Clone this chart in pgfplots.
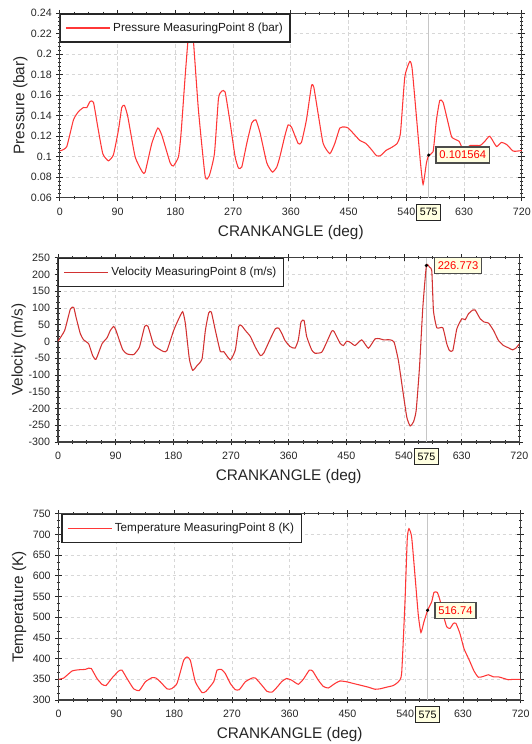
\documentclass[border=0pt]{standalone}
\usepackage{pgfplots}
\pgfplotsset{compat=1.18}
\usepackage{fontspec}
\setmainfont{Liberation Sans}

\definecolor{curvered}{RGB}{255,55,55}
\definecolor{curvedark}{RGB}{210,50,50}
\definecolor{tipfill}{RGB}{255,255,225}
\definecolor{gridgray}{RGB}{215,215,215}

\pgfplotsset{
  panel/.style={
    scale only axis,
    anchor=north west,
    width=346.5pt,
    xmin=0, xmax=720,
    xtick={0,90,...,720},
    minor x tick num=3,
    minor y tick num=2,
    grid=major,
    major grid style={gridgray, dash pattern=on 2.5pt off 2pt, line width=0.5pt},
    axis line style={black!75, line width=0.8pt},
    tick style={black!85, line width=0.6pt},
    tick align=center,
    major tick length=5pt,
    minor tick length=2.5pt,
    /pgf/number format/assume math mode=true,
    ticklabel style={font=\fontsize{8}{9}\selectfont, text=black!85},
    xticklabel style={yshift=-1.5pt},
    label style={font=\fontsize{11.5}{13}\selectfont, text=black!85},
    xlabel={CRANKANGLE (deg)},
    xlabel style={at={(axis description cs:0.5,0)}, anchor=center, yshift=-26pt},
    ylabel style={at={(axis description cs:-0.0855,0.5)}, anchor=center},
    legend style={at={(0,1)}, anchor=north west, draw=black!85, line width=1.1pt,
      fill=white, inner xsep=3.5pt, inner ysep=4.5pt,
      font=\fontsize{8.8}{10}\selectfont, text=black!90},
    legend cell align=left,
    legend image code/.code={\draw[#1] (0pt,0pt) -- (33pt,0pt);},
    clip mode=individual,
  },
  curve/.style={#1, line width=0.8pt, smooth, tension=0.3, forget plot},
}
\tikzset{
  cursorbox/.style={draw=black!85, fill=tipfill, line width=0.7pt,
    font=\fontsize{8}{9}\selectfont, inner xsep=2pt, inner ysep=2pt,
    minimum width=18pt, minimum height=12pt, anchor=north},
  valuebox/.style={draw=black!70, fill=tipfill, line width=1pt, text=red,
    font=\fontsize{8.4}{9}\selectfont, inner xsep=2.5pt, inner ysep=2.5pt,
    anchor=west, minimum height=12pt},
}

\begin{document}
\begin{tikzpicture}
\path[use as bounding box] (0,0) rectangle (399pt,-558pt);

% Pressure
\begin{axis}[panel,
  at={(44.85pt,-9.9pt)}, height=138.4pt,
  ymin=0.06, ymax=0.24, ytick={0.06,0.08,...,0.241},
  minor y tick num=4,
  yticklabel style={/pgf/number format/fixed, /pgf/number format/precision=2},
  ylabel={Pressure (bar)}]
\addlegendimage{curvered, line width=1pt}
\addlegendentry{Pressure MeasuringPoint 8 (bar)}
\addplot[gray!45, line width=0.6pt, forget plot] coordinates {(575,0.06) (575,0.24)};
\addplot[curve=curvered] coordinates {
(0,0.106) (2,0.106) (10.9,0.110) (21.3,0.136) (29.1,0.144) (36.9,0.148) (42.1,0.148)
(47.3,0.154) (52.5,0.153) (59.2,0.129) (67,0.103) (75.8,0.096) (83.6,0.102) (91.4,0.126)
(96.6,0.148) (100.8,0.150) (106,0.139) (117.4,0.100) (128.8,0.085) (133,0.085) (143.4,0.113)
(152.7,0.128) (159,0.121) (172,0.094) (177,0.091) (185,0.100) (189,0.123) (195.3,0.178)
(200,0.215) (204,0.232) (208,0.215) (216,0.146) (226.5,0.081) (232.7,0.081) (241,0.103)
(247.3,0.157) (252.5,0.164) (257.7,0.163) (265.5,0.133) (273.2,0.100) (278.4,0.089)
(283.6,0.090) (291.4,0.113) (299.2,0.133) (305.5,0.136) (312.2,0.123) (322.6,0.094)
(331.4,0.085) (338.2,0.090) (343,0.100) (350.6,0.120) (355.8,0.131) (361,0.129)
(371.4,0.113) (376.6,0.114) (384.4,0.136) (392.2,0.169) (395.8,0.168) (402.6,0.142)
(410.4,0.113) (420.8,0.103) (428.6,0.113) (436.4,0.128) (444.2,0.129) (449.4,0.128)
(457.1,0.123) (467.5,0.116) (476.9,0.113) (485.7,0.107) (493.5,0.101) (499.7,0.101)
(508,0.106) (516.9,0.109) (525.7,0.113) (530.9,0.123) (537.7,0.178) (545.5,0.193)
(549.1,0.186) (555.8,0.139) (562.1,0.094) (566.2,0.073) (571.4,0.094) (575,0.1016)
(581.8,0.105) (587,0.136) (592.2,0.155) (597.4,0.153) (605.2,0.133) (611,0.119)
(622.3,0.115) (628.6,0.107) (640,0.111) (655,0.111) (662.3,0.115) (670.1,0.120)
(680.5,0.110) (688.3,0.114) (696.1,0.112) (706.5,0.1055) (712.7,0.1055) (720,0.106)
};
\addplot[only marks, mark=*, mark size=1pt, black, forget plot] coordinates {(575,0.101564)};
\node[valuebox, xshift=5pt] at (axis cs:575,0.101564) {0.101564};
\node[cursorbox, yshift=-4.5pt] at (axis cs:575,0.06) {575};
\end{axis}

% Velocity
\begin{axis}[panel,
  at={(43.5pt,-193.3pt)}, width=346pt, height=138.2pt,
  ymin=-300, ymax=250, ytick={-300,-250,...,250},
  ylabel={Velocity (m/s)}]
\addlegendimage{curvedark, line width=1pt}
\addlegendentry{Velocity MeasuringPoint 8 (m/s)}
\addplot[gray!45, line width=0.6pt, forget plot] coordinates {(575,-300) (575,250)};
\addplot[curve=curvedark] coordinates {
(0,1) (10.4,33) (19.3,97) (24.5,102) (28.1,73) (34.9,23) (40,5) (47.9,-7) (54.1,-42)
(59.3,-53) (68.7,-7) (76.5,11) (81.7,33) (86.9,45) (90.5,33) (100.9,-24) (107.7,-37)
(118.1,-39) (127,-17) (135.3,45) (140.5,45) (149.3,-10) (157.1,-22) (164.9,-30)
(170.1,-27) (180.5,33) (187.3,63) (194.6,89) (198.8,53) (205,-52) (210.2,-86) (217,-72)
(224.8,-52) (230,33) (235.2,85) (239.3,88) (245.6,33) (253.4,-30) (258.6,-30) (269,-55)
(276.8,-25) (282,45) (286.2,48) (292.4,33) (300.2,15) (308,-17) (315.8,-42) (321,-35)
(331.4,8) (339.2,38) (344.4,40) (349.6,23) (354.3,3) (362.1,-15) (369.9,-20) (375.1,5)
(379.3,58) (384,63) (388.1,15) (395.9,-25) (401.1,-35) (411.6,-32) (419.4,-2) (427.2,31)
(430.8,30) (440.2,-5) (445.4,-12) (450.6,1) (455.8,-2) (463.6,-12) (474.1,5) (484.5,-20)
(494.9,8) (502.7,8) (507.9,5) (518.3,5) (524.6,-2) (531.3,-57) (538.1,-146) (544.4,-226)
(549.6,-252) (554.8,-240) (559,-206) (564.2,-77) (569.4,102) (575,226.773) (579.8,222)
(583.4,210) (586,92) (591.2,41) (600.6,41) (606.8,-7) (611,-27) (616.2,-27) (622.5,38)
(630.3,68) (635.5,65) (640.7,83) (647.4,94) (651.1,94) (658.9,68) (665.2,58) (671.9,55)
(679.7,33) (687.5,3) (695.3,-12) (703.2,-19) (709.4,-25) (715.1,-19) (720,-7)
};
\addplot[only marks, mark=*, mark size=1pt, black, forget plot] coordinates {(575,226.773)};
\node[valuebox, xshift=5.5pt] at (axis cs:575,226.773) {226.773};
\node[cursorbox, yshift=-4.5pt] at (axis cs:575,-300) {575};
\end{axis}

% Temperature
\begin{axis}[panel,
  at={(44pt,-385.3pt)}, height=139.7pt,
  ymin=300, ymax=750, ytick={300,350,...,750},
  ylabel={Temperature (K)},
  legend style={at={(axis description cs:0.006,1)}}]
\addlegendimage{curvered, line width=1pt}
\addlegendentry{Temperature MeasuringPoint 8 (K)}
\addplot[gray!45, line width=0.6pt, forget plot] coordinates {(575,300) (575,750)};
\addplot[curve=curvered] coordinates {
(0,350) (7.8,353) (20.8,370) (31.2,373) (41.6,374) (46.8,377) (50.9,376) (59.7,352)
(67.5,338) (73.8,335) (83.1,353) (93.5,370) (98.7,372) (106.5,352) (116.9,327) (125.7,323)
(135.1,344) (145.5,354) (151.7,353) (158.4,344) (168.8,327) (175.6,327) (184.4,340)
(194.8,396) (200,404) (205.2,396) (213,344) (223.4,318) (229.6,321) (241.6,344) (246.8,372)
(253.5,374) (259.7,364) (267.5,340) (275.3,325) (281.6,325) (290.9,344) (301.3,353)
(306.5,353) (314.3,340) (324.7,321) (332.5,319) (340.3,331) (348.1,345) (355.2,352)
(363,348) (373.4,338) (381.2,350) (390.6,372) (395.8,370) (404.6,348) (412.4,333)
(420.2,329) (430.6,340) (438.4,346) (448.8,344) (459.2,340) (472.2,335) (482.6,331)
(493,326) (500.7,327) (511.1,331) (521.5,335) (529.3,344) (534.5,364) (539.7,537)
(543.3,690) (545.9,714) (550.1,694) (555.3,601) (560.5,505) (564.6,463) (569.3,489)
(575,516.74) (581.3,537) (584.9,560) (590.1,560) (594.3,541) (599.5,505) (604.7,477)
(609.9,473) (615.1,485) (619.2,485) (625.5,460) (631.7,424) (640,396) (647.3,370)
(654,355) (661.8,357) (669.6,361) (677.4,356) (685.2,356) (692,353) (700.8,349)
(708.6,350) (720,350)
};
\addplot[only marks, mark=*, mark size=1pt, black, forget plot] coordinates {(575,516.74)};
\node[valuebox, xshift=5pt] at (axis cs:575,516.74) {516.74};
\node[cursorbox, yshift=-4.5pt] at (axis cs:575,300) {575};
\end{axis}
\end{tikzpicture}
\end{document}
